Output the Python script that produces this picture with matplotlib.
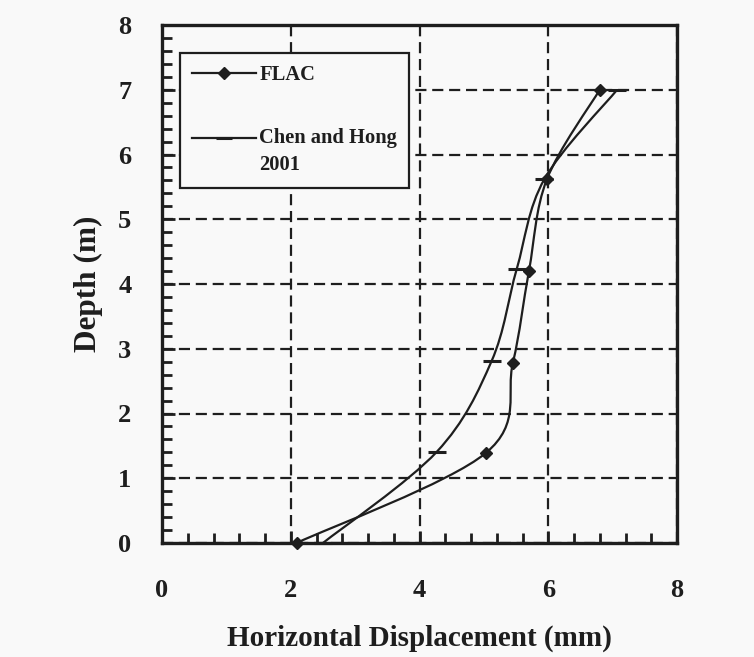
import numpy as np
import matplotlib
matplotlib.use('Agg')
import matplotlib.pyplot as plt
from matplotlib.path import Path
from matplotlib.patches import PathPatch
from matplotlib.lines import Line2D
from matplotlib.ticker import MultipleLocator

plt.rcParams['font.family'] = ['Liberation Serif', 'DejaVu Serif']
plt.rcParams['font.weight'] = 'bold'
plt.rcParams['axes.labelweight'] = 'bold'

# lateral wall displacement (mm) against depth (m)
flac_disp = [2.09, 5.03, 5.45, 5.70, 5.98, 6.80]
flac_depth = [0.0, 1.39, 2.78, 4.20, 5.62, 7.00]
chen_disp = [2.50, 4.27, 5.12, 5.51, 5.94, 7.07]
chen_depth = [0.0, 1.41, 2.81, 4.23, 5.62, 7.00]

series_labels = ['FLAC', 'Chen and Hong\n2001']
x_ticks = [0, 2, 4, 6, 8]
y_ticks = [0, 1, 2, 3, 4, 5, 6, 7, 8]

INK = '#1e1e1e'
PAPER = '#f9f9f9'


def smooth_path(xs, ys):
    # spreadsheet-style smoothed line: cubic bezier through every point
    pts = np.column_stack([xs, ys])
    n = len(pts)
    verts = [pts[0]]
    codes = [Path.MOVETO]
    for i in range(n - 1):
        p_prev = pts[i - 1] if i > 0 else pts[i]
        p_next2 = pts[i + 2] if i + 2 < n else pts[i + 1]
        c1 = pts[i] + (pts[i + 1] - p_prev) / 6.0
        c2 = pts[i + 1] - (p_next2 - pts[i]) / 6.0
        verts += [c1, c2, pts[i + 1]]
        codes += [Path.CURVE4] * 3
    return Path(verts, codes)


fig = plt.figure(figsize=(7.54, 6.57), dpi=100, facecolor=PAPER)
ax = fig.add_axes([162 / 754, 1 - 543 / 657, 515 / 754, 518 / 657], facecolor=PAPER)

ax.add_patch(PathPatch(smooth_path(flac_disp, flac_depth), fill=False, edgecolor=INK, lw=1.6, zorder=3))
ax.add_patch(PathPatch(smooth_path(chen_disp, chen_depth), fill=False, edgecolor=INK, lw=1.6, zorder=3))
ax.plot(flac_disp, flac_depth, ls='none', marker='D', ms=6, color=INK, zorder=4, clip_on=False)
ax.plot(chen_disp, chen_depth, ls='none', marker='_', ms=13, mew=2.2, color=INK, zorder=4, clip_on=False)

ax.set_xlim(0, 8)
ax.set_ylim(0, 8)
ax.set_xticks(x_ticks)
ax.set_yticks(y_ticks)
ax.xaxis.set_minor_locator(MultipleLocator(0.4))
ax.yaxis.set_minor_locator(MultipleLocator(0.2))
ax.tick_params(which='both', direction='in', top=False, right=False, color=INK, width=2)
ax.tick_params(which='major', length=9)
ax.tick_params(which='minor', length=7)
ax.tick_params(axis='x', which='major', pad=26, labelsize=19, labelcolor=INK)
ax.tick_params(axis='y', which='major', pad=22, labelsize=19, labelcolor=INK)

for sp in ax.spines.values():
    sp.set_linewidth(2.4)
    sp.set_color(INK)

ax.grid(True, which='major', color=INK, lw=1.6, ls=(0, (5, 2.6)))
ax.set_axisbelow(True)

ax.set_xlabel('Horizontal Displacement (mm)', fontsize=21, color=INK, labelpad=16)
ax.set_ylabel('Depth (m)', fontsize=22.5, color=INK, labelpad=11)

handles = [
    Line2D([], [], color=INK, lw=1.6, marker='D', ms=6),
    Line2D([], [], color=INK, lw=1.6, marker='_', ms=12, mew=2.2),
]
leg = ax.legend(handles, series_labels, loc='upper left', bbox_to_anchor=(0.035, 0.946),
                fancybox=False, framealpha=1, facecolor=PAPER, edgecolor=INK,
                prop={'family': 'Liberation Serif', 'weight': 'bold', 'size': 14.8},
                handlelength=3.1, handletextpad=0.15, labelspacing=2.1, borderpad=0.6,
                borderaxespad=0)
leg.get_frame().set_linewidth(1.6)
for txt in leg.get_texts():
    txt.set_linespacing(1.45)
    txt.set_color(INK)
# keep the second sample line level with the first text line
h2 = leg.legend_handles[1]
h2.set_ydata(np.asarray(h2.get_ydata()) + 10.5)

fig.savefig('out.png', dpi=100, facecolor=PAPER)
